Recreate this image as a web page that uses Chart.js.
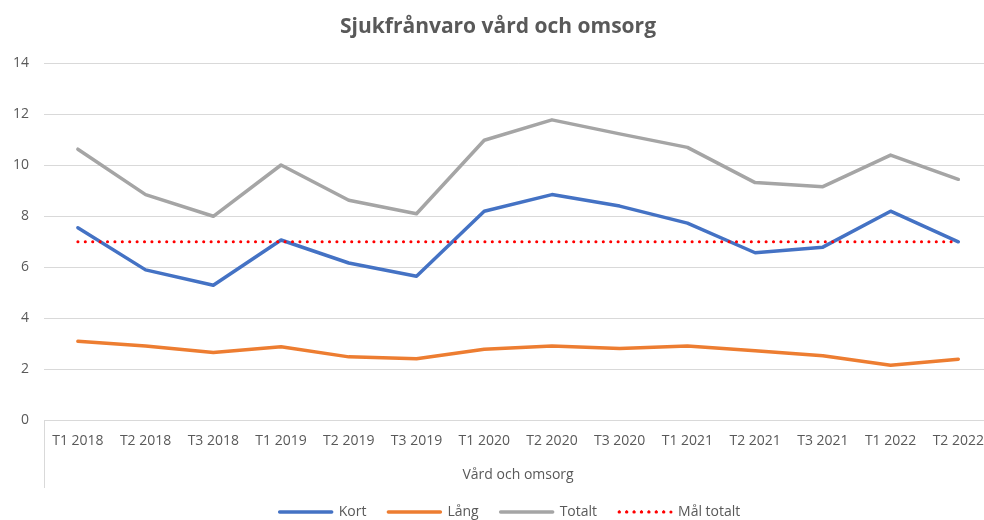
<!DOCTYPE html>
<html lang="sv">
<head>
<meta charset="utf-8">
<title>Sjukfrånvaro vård och omsorg</title>
<script src="https://cdn.jsdelivr.net/npm/chart.js@4.4.1/dist/chart.umd.min.js"></script>
<style>
    html, body { margin: 0; padding: 0; background: #fff; }
    #wrap { width: 984px; height: 520px; overflow: hidden; }
</style>
</head>
<body>
<div id="wrap">
    <canvas id="sickChart" width="996" height="520"></canvas>
</div>
<script>
// Perioder (tertial)
const periods = ['T1 2018', 'T2 2018', 'T3 2018', 'T1 2019', 'T2 2019', 'T3 2019', 'T1 2020',
                 'T2 2020', 'T3 2020', 'T1 2021', 'T2 2021', 'T3 2021', 'T1 2022', 'T2 2022'];

// Sjukfrånvaro i procent
const kort   = [7.55, 5.9, 5.3, 7.07, 6.17, 5.65, 8.2, 8.85, 8.4, 7.73, 6.57, 6.79, 8.2, 7.0];
const lang   = [3.1, 2.92, 2.66, 2.89, 2.49, 2.42, 2.79, 2.92, 2.82, 2.92, 2.73, 2.53, 2.16, 2.4];
const totalt = [10.63, 8.85, 8.0, 10.01, 8.63, 8.1, 10.98, 11.78, 11.23, 10.7, 9.32, 9.16, 10.4, 9.45];
const malTotalt = [7, 7, 7, 7, 7, 7, 7, 7, 7, 7, 7, 7, 7, 7];

const yTicks = { min: 0, max: 14, step: 2 };

const textColor = '#595959';
const gridColor = '#d9d9d9';
const fontFamily = '"Open Sans", "Liberation Sans", sans-serif';

// Excel-liknande avgränsare under kategoriaxeln
const groupLines = {
    id: 'groupLines',
    afterLayout(chart) {
        // originalet är beskuret till höger, så förklaringen sitter lite till höger om mitten
        chart.legend.left += 12;
        chart.legend.right += 12;
    },
    afterDraw(chart) {
        const x = chart.scales.x;
        const ctx = chart.ctx;
        ctx.save();
        ctx.strokeStyle = gridColor;
        ctx.lineWidth = 1;
        ctx.beginPath();
        [x.left, x.right].forEach(px => {
            const p = Math.round(px) + 0.5;
            ctx.moveTo(p, chart.chartArea.bottom);
            ctx.lineTo(p, x.bottom + 5);
        });
        ctx.stroke();
        ctx.restore();
    }
};

function lineSet(label, data, color, order) {
    return {
        label: label,
        data: data,
        borderColor: color,
        backgroundColor: color,
        borderWidth: 3.5,
        borderCapStyle: 'round',
        borderJoinStyle: 'round',
        pointRadius: 0,
        pointHoverRadius: 0,
        tension: 0,
        fill: false,
        order: order
    };
}

const malSet = lineSet('Mål totalt', malTotalt, '#ff0000', 0);
malSet.borderWidth = 3;
malSet.borderDash = [0.1, 7.3];

new Chart(document.getElementById('sickChart'), {
    type: 'line',
    data: {
        labels: periods,
        datasets: [
            lineSet('Kort', kort, '#4472c4', 3),
            lineSet('Lång', lang, '#ed7d31', 2),
            lineSet('Totalt', totalt, '#a5a5a5', 1),
            malSet
        ]
    },
    options: {
        responsive: false,
        animation: false,
        layout: {
            padding: { left: 0, right: 0, top: 0, bottom: -9 }
        },
        scales: {
            x: {
                offset: true,
                grid: { display: false, drawTicks: false },
                border: { display: false },
                ticks: {
                    color: textColor,
                    font: { family: fontFamily, size: 14 },
                    padding: 12,
                    maxRotation: 0,
                    autoSkip: false
                },
                title: {
                    display: true,
                    text: 'Vård och omsorg',
                    color: textColor,
                    font: { family: fontFamily, size: 14 },
                    padding: { top: 5, bottom: 0 }
                }
            },
            y: {
                min: yTicks.min,
                max: yTicks.max,
                grid: { color: gridColor, lineWidth: 1, drawTicks: false },
                border: { display: false },
                ticks: {
                    stepSize: yTicks.step,
                    color: textColor,
                    font: { family: fontFamily, size: 14 },
                    padding: 15
                },
                afterFit(scale) {
                    scale.width = 44;
                }
            }
        },
        plugins: {
            title: {
                display: true,
                text: 'Sjukfrånvaro vård och omsorg',
                color: textColor,
                font: { family: fontFamily, size: 21, weight: 'bold' },
                padding: { top: 14, bottom: 24 }
            },
            legend: {
                position: 'bottom',
                labels: {
                    color: textColor,
                    font: { family: fontFamily, size: 14 },
                    boxWidth: 52,
                    boxHeight: 0,
                    padding: 22,
                    sort: (a, b) => a.datasetIndex - b.datasetIndex
                }
            },
            tooltip: { enabled: false }
        }
    },
    plugins: [groupLines]
});
</script>
</body>
</html>
